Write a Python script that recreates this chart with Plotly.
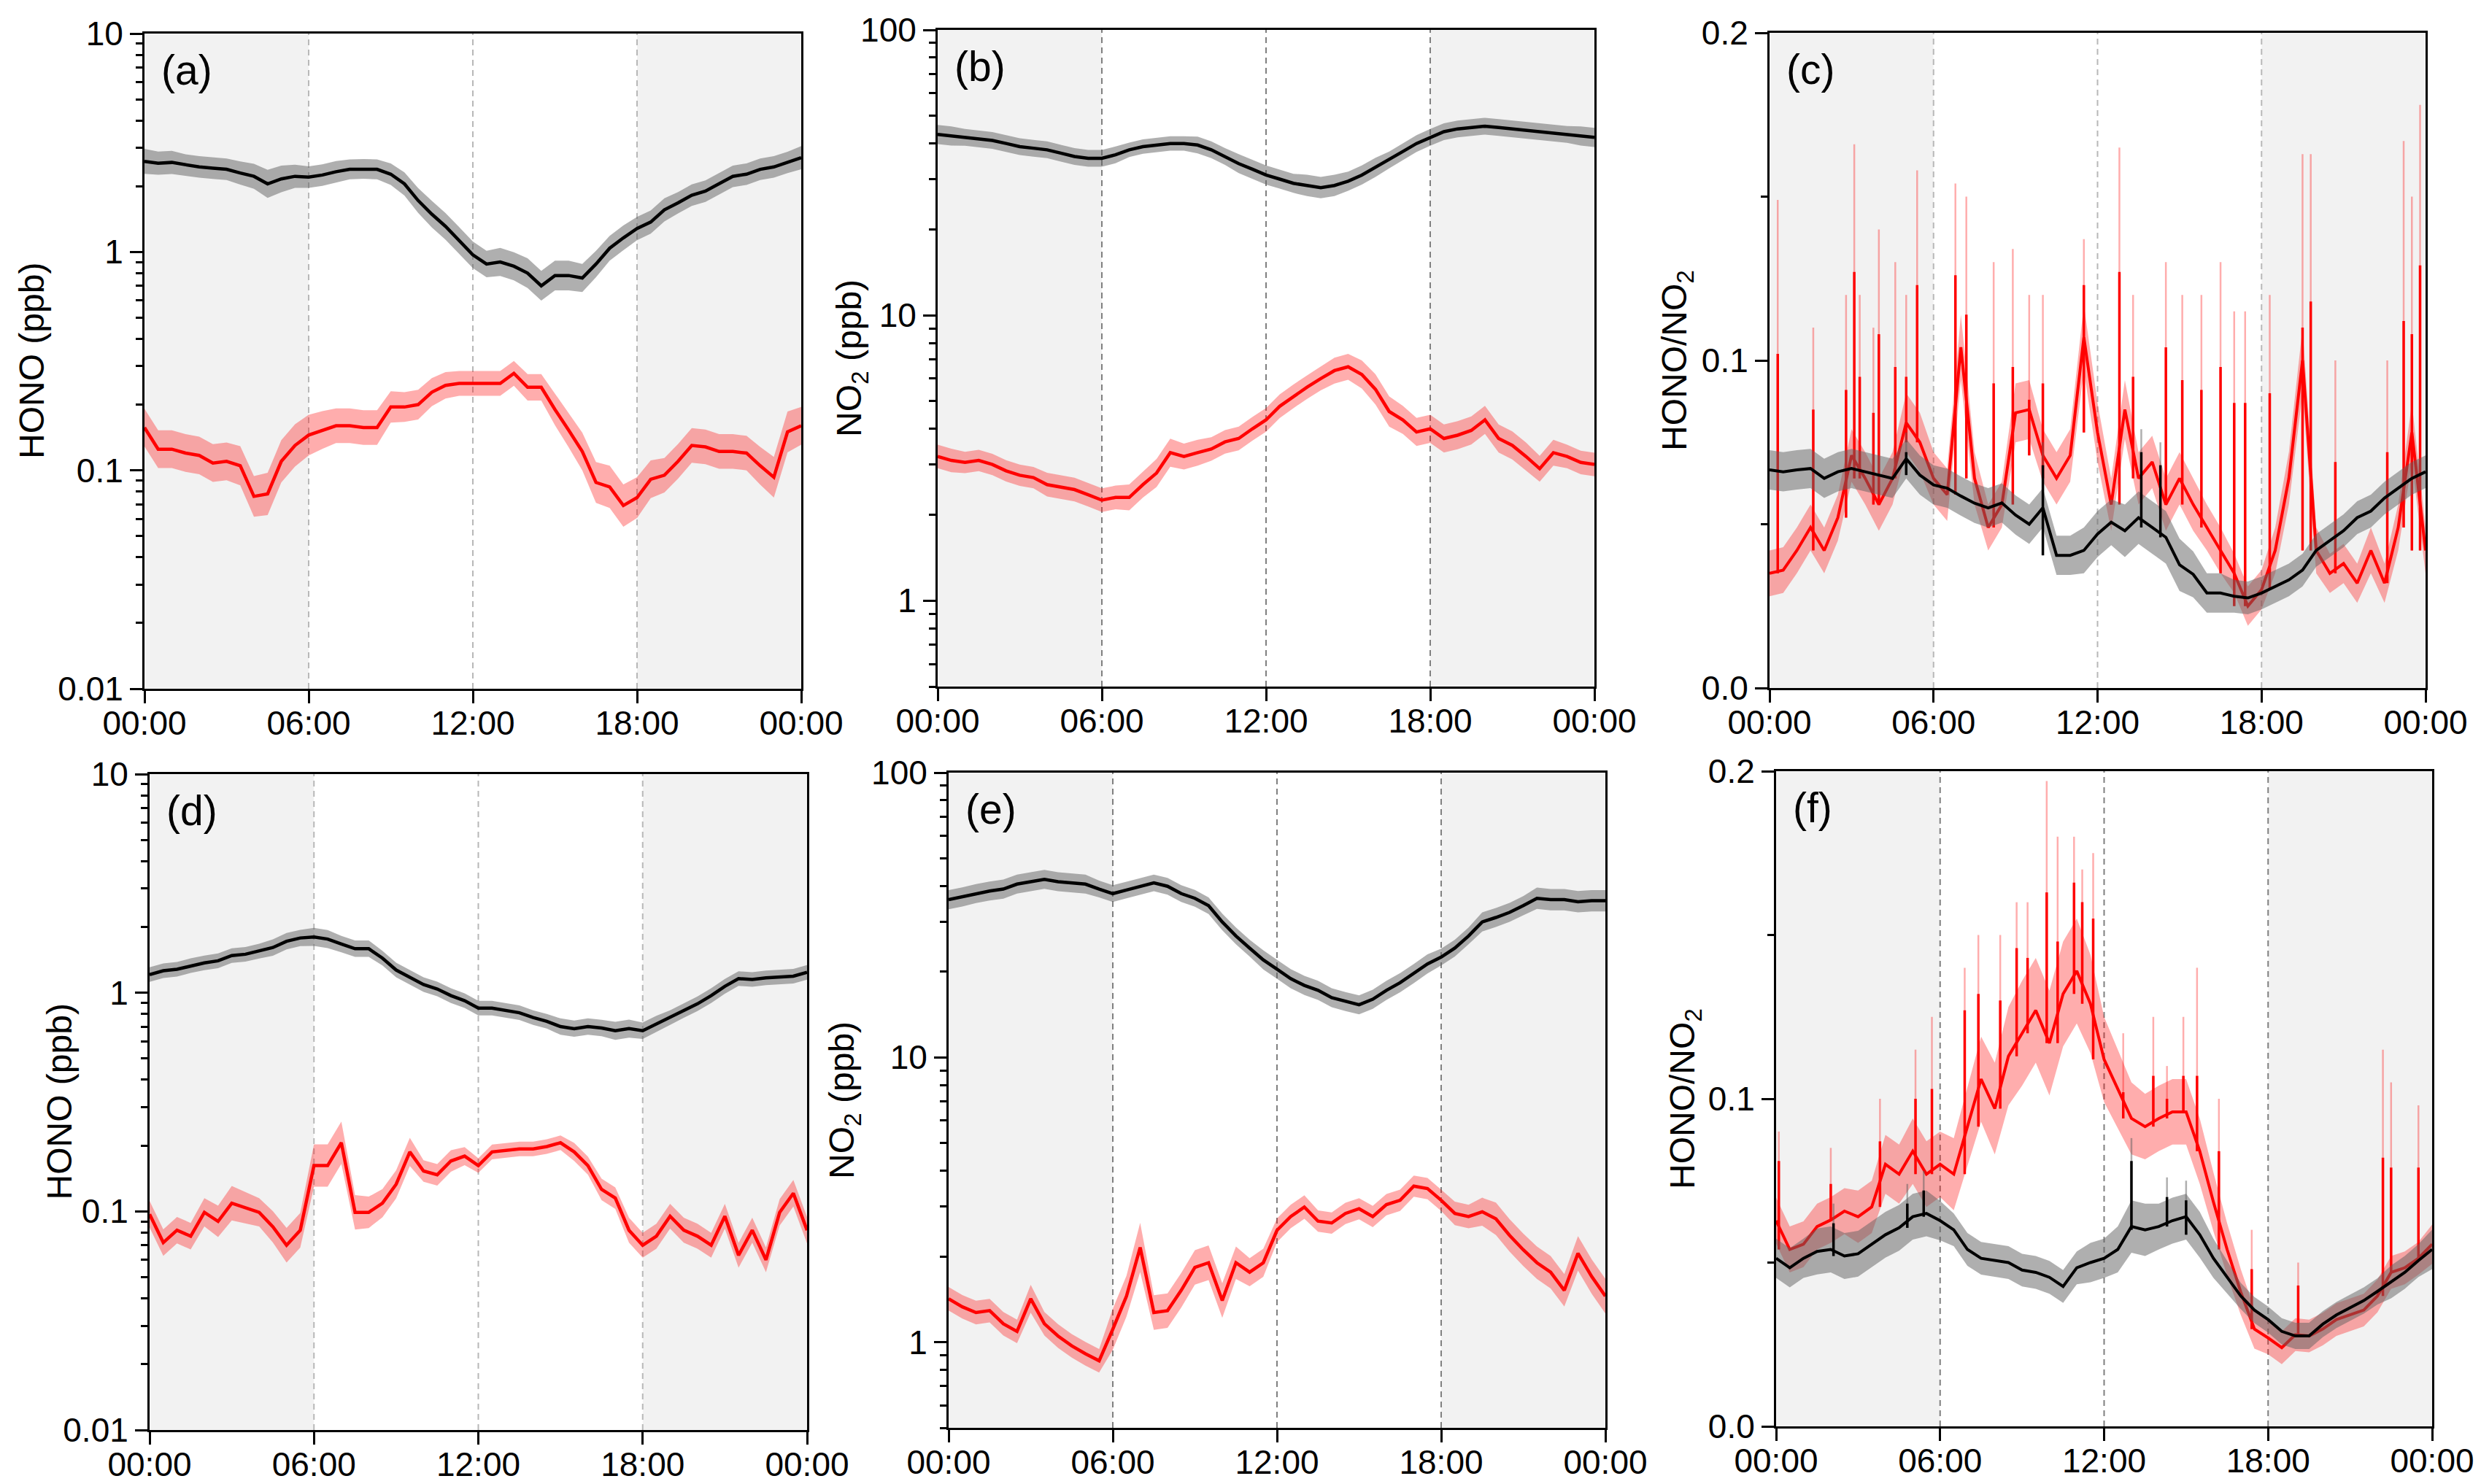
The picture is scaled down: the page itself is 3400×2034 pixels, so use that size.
import numpy as np
import plotly.graph_objects as go

W, H = 3400, 2034
FONT = "Liberation Sans, Arial, sans-serif"

# time of day (hours), 30-min grid
hours = np.arange(49) * 0.5
x_tickvals = [0, 6, 12, 18, 24]
x_ticktext = ["00:00", "06:00", "12:00", "18:00", "00:00"]

# ---------------- (a) HONO, period 1 (ppb) ----------------
hono_a_black = [2.60, 2.55, 2.57, 2.50, 2.45, 2.42, 2.39, 2.30, 2.22, 2.05,
                2.16, 2.22, 2.20, 2.25, 2.33, 2.39, 2.40, 2.39, 2.27, 2.05,
                1.72, 1.49, 1.31, 1.13, 0.97, 0.88, 0.90, 0.86, 0.80, 0.70,
                0.78, 0.78, 0.76, 0.88, 1.04, 1.16, 1.28, 1.37, 1.56, 1.68,
                1.82, 1.90, 2.05, 2.22, 2.27, 2.39, 2.45, 2.57, 2.70]
hono_a_black_spread = [1.14, 1.13, 1.13, 1.12, 1.12, 1.12, 1.12, 1.13, 1.14, 1.16,
                       1.15, 1.13, 1.12, 1.12, 1.12, 1.11, 1.11, 1.11, 1.12, 1.13,
                       1.14, 1.15, 1.15, 1.15, 1.15, 1.15, 1.16, 1.16, 1.17, 1.17,
                       1.17, 1.17, 1.16, 1.15, 1.14, 1.14, 1.13, 1.13, 1.13, 1.12,
                       1.12, 1.12, 1.12, 1.12, 1.12, 1.12, 1.12, 1.12, 1.13]
hono_a_red = [0.157, 0.125, 0.125, 0.120, 0.117, 0.108, 0.110, 0.105, 0.076, 0.078,
              0.110, 0.130, 0.145, 0.153, 0.160, 0.160, 0.157, 0.157, 0.195, 0.195,
              0.200, 0.228, 0.245, 0.250, 0.250, 0.250, 0.250, 0.278, 0.240, 0.240,
              0.190, 0.153, 0.122, 0.088, 0.084, 0.069, 0.075, 0.091, 0.095, 0.110,
              0.130, 0.128, 0.122, 0.122, 0.120, 0.105, 0.093, 0.150, 0.160]
hono_a_red_spread = [1.22, 1.22, 1.22, 1.22, 1.22, 1.22, 1.22, 1.23, 1.24, 1.25,
                     1.25, 1.25, 1.24, 1.22, 1.20, 1.20, 1.20, 1.20, 1.18, 1.17,
                     1.17, 1.16, 1.15, 1.14, 1.14, 1.14, 1.14, 1.14, 1.15, 1.15,
                     1.18, 1.20, 1.22, 1.24, 1.25, 1.25, 1.24, 1.22, 1.20, 1.20,
                     1.20, 1.20, 1.20, 1.20, 1.20, 1.22, 1.24, 1.24, 1.22]

# ---------------- (b) NO2, period 1 (ppb) ----------------
no2_b_black = [43.0, 42.5, 42.0, 41.5, 41.0, 40.0, 39.0, 38.5, 38.0, 37.0,
               36.0, 35.5, 35.5, 36.5, 38.0, 39.0, 39.5, 40.0, 40.0, 39.5,
               38.0, 36.0, 34.0, 32.5, 31.0, 30.0, 29.0, 28.5, 28.0, 28.5,
               29.5, 31.0, 33.0, 35.0, 37.5, 40.0, 42.0, 44.0, 45.0, 45.5,
               46.0, 45.5, 45.0, 44.5, 44.0, 43.5, 43.0, 42.5, 42.0]
no2_b_black_spread = [1.08, 1.08, 1.07, 1.07, 1.07, 1.07, 1.07, 1.07, 1.07, 1.07,
                      1.07, 1.07, 1.07, 1.07, 1.06, 1.06, 1.06, 1.06, 1.06, 1.07,
                      1.07, 1.07, 1.08, 1.08, 1.08, 1.08, 1.08, 1.09, 1.09, 1.09,
                      1.08, 1.08, 1.08, 1.07, 1.07, 1.07, 1.07, 1.07, 1.07, 1.07,
                      1.07, 1.07, 1.07, 1.07, 1.07, 1.07, 1.07, 1.08, 1.08]
no2_b_red = [3.20, 3.10, 3.05, 3.10, 3.00, 2.85, 2.75, 2.70, 2.55, 2.50,
             2.45, 2.35, 2.25, 2.30, 2.30, 2.55, 2.80, 3.30, 3.20, 3.30,
             3.40, 3.60, 3.70, 4.00, 4.30, 4.80, 5.20, 5.60, 6.00, 6.40,
             6.60, 6.20, 5.50, 4.60, 4.30, 3.90, 4.00, 3.70, 3.80, 3.95,
             4.30, 3.70, 3.50, 3.20, 2.90, 3.30, 3.20, 3.05, 3.00]
no2_b_red_spread = [1.10, 1.10, 1.09, 1.09, 1.09, 1.09, 1.09, 1.09, 1.10, 1.10,
                    1.10, 1.10, 1.10, 1.10, 1.11, 1.11, 1.12, 1.12, 1.11, 1.11,
                    1.10, 1.10, 1.10, 1.10, 1.10, 1.10, 1.10, 1.10, 1.10, 1.11,
                    1.11, 1.12, 1.13, 1.13, 1.12, 1.12, 1.12, 1.12, 1.12, 1.12,
                    1.12, 1.12, 1.12, 1.12, 1.11, 1.11, 1.10, 1.10, 1.10]

# ---------------- (c) HONO/NO2, period 1 ----------------
ratio_c_black = [0.0666, 0.0660, 0.0666, 0.0670, 0.0640, 0.0660, 0.0670, 0.0660, 0.0650, 0.0640,
                 0.0700, 0.0650, 0.0620, 0.0610, 0.0586, 0.0564, 0.0550, 0.0565, 0.0528, 0.0500,
                 0.0550, 0.0405, 0.0405, 0.0420, 0.0470, 0.0506, 0.0480, 0.0520, 0.0490, 0.0460,
                 0.0376, 0.0347, 0.0290, 0.0290, 0.0280, 0.0275, 0.0290, 0.0310, 0.0330, 0.0360,
                 0.0420, 0.0450, 0.0480, 0.0520, 0.0540, 0.0580, 0.0610, 0.0640, 0.0660]
ratio_c_black_spread = [0.006, 0.006, 0.006, 0.006, 0.006, 0.006, 0.006, 0.006, 0.006, 0.006,
                        0.006, 0.006, 0.006, 0.006, 0.006, 0.006, 0.006, 0.006, 0.006, 0.006,
                        0.006, 0.006, 0.006, 0.007, 0.007, 0.007, 0.008, 0.008, 0.008, 0.008,
                        0.008, 0.007, 0.006, 0.006, 0.005, 0.005, 0.005, 0.005, 0.005, 0.005,
                        0.005, 0.005, 0.005, 0.005, 0.005, 0.005, 0.005, 0.005, 0.005]
ratio_c_red = [0.035, 0.036, 0.042, 0.049, 0.042, 0.052, 0.071, 0.064, 0.056, 0.064,
               0.081, 0.075, 0.064, 0.059, 0.104, 0.064, 0.049, 0.056, 0.084, 0.085,
               0.071, 0.064, 0.071, 0.107, 0.078, 0.056, 0.085, 0.064, 0.069, 0.056,
               0.064, 0.056, 0.049, 0.042, 0.035, 0.025, 0.030, 0.042, 0.064, 0.100,
               0.042, 0.035, 0.038, 0.032, 0.042, 0.032, 0.049, 0.078, 0.042]
ratio_c_red_spread = [0.007, 0.007, 0.007, 0.007, 0.007, 0.007, 0.008, 0.008, 0.008, 0.008,
                      0.009, 0.009, 0.008, 0.008, 0.010, 0.008, 0.007, 0.007, 0.009, 0.009,
                      0.008, 0.008, 0.008, 0.010, 0.009, 0.008, 0.009, 0.008, 0.008, 0.008,
                      0.008, 0.008, 0.007, 0.007, 0.006, 0.006, 0.006, 0.007, 0.008, 0.010,
                      0.007, 0.006, 0.006, 0.006, 0.007, 0.006, 0.007, 0.009, 0.007]
# short spikes of the red series (time h, peak, upper band peak)
spk_c_red_t = [0.3, 1.6, 2.8, 3.1, 3.3, 3.8, 4.0, 4.6, 5.0, 5.4, 6.8, 7.2, 8.2, 8.9, 9.5, 10.0, 11.5,
               12.8, 13.3, 14.5, 15.1, 15.8, 16.5, 17.0, 17.4, 18.3, 19.5, 19.8, 20.7, 22.6, 23.2, 23.5, 23.8]
spk_c_red_v = [0.102, 0.085, 0.091, 0.127, 0.095, 0.084, 0.108, 0.098, 0.095, 0.123, 0.126, 0.114, 0.093,
               0.098, 0.088, 0.093, 0.123, 0.127, 0.095, 0.104, 0.094, 0.091, 0.098, 0.087, 0.087, 0.090,
               0.110, 0.118, 0.069, 0.072, 0.112, 0.108, 0.129]
spk_c_red_hi = [0.149, 0.110, 0.120, 0.166, 0.120, 0.110, 0.140, 0.130, 0.120, 0.158, 0.154, 0.150, 0.130,
                0.134, 0.120, 0.120, 0.137, 0.165, 0.120, 0.130, 0.120, 0.120, 0.130, 0.115, 0.115, 0.120,
                0.163, 0.163, 0.100, 0.100, 0.167, 0.150, 0.178]
spk_c_black_t = [5.0, 10.0, 13.6, 14.3]
spk_c_black_v = [0.072, 0.068, 0.072, 0.068]
spk_c_black_hi = [0.078, 0.075, 0.079, 0.075]

# ---------------- (d) HONO, period 2 (ppb) ----------------
hono_d_black = [1.21, 1.26, 1.28, 1.33, 1.37, 1.40, 1.48, 1.50, 1.55, 1.61,
                1.72, 1.78, 1.80, 1.76, 1.67, 1.59, 1.59, 1.44, 1.27, 1.18,
                1.09, 1.04, 0.97, 0.92, 0.85, 0.85, 0.83, 0.81, 0.77, 0.74,
                0.70, 0.685, 0.70, 0.69, 0.67, 0.685, 0.67, 0.72, 0.77, 0.83,
                0.89, 0.97, 1.07, 1.16, 1.15, 1.17, 1.18, 1.19, 1.24]
hono_d_black_spread = [1.08, 1.08, 1.08, 1.08, 1.08, 1.08, 1.08, 1.08, 1.08, 1.09,
                       1.09, 1.09, 1.10, 1.10, 1.09, 1.09, 1.09, 1.08, 1.08, 1.08,
                       1.08, 1.08, 1.08, 1.08, 1.08, 1.08, 1.08, 1.08, 1.08, 1.08,
                       1.09, 1.09, 1.09, 1.09, 1.10, 1.10, 1.09, 1.09, 1.08, 1.08,
                       1.08, 1.08, 1.08, 1.08, 1.08, 1.08, 1.08, 1.08, 1.08]
hono_d_red = [0.097, 0.072, 0.082, 0.077, 0.099, 0.090, 0.109, 0.104, 0.099, 0.085,
              0.070, 0.082, 0.162, 0.162, 0.206, 0.099, 0.099, 0.109, 0.133, 0.187,
              0.153, 0.147, 0.170, 0.179, 0.162, 0.187, 0.190, 0.193, 0.193, 0.198,
              0.206, 0.187, 0.162, 0.126, 0.115, 0.082, 0.070, 0.077, 0.095, 0.082,
              0.077, 0.070, 0.095, 0.063, 0.082, 0.060, 0.099, 0.121, 0.082]
hono_d_red_spread = [1.15, 1.15, 1.15, 1.15, 1.16, 1.18, 1.20, 1.18, 1.16, 1.18,
                     1.20, 1.20, 1.25, 1.25, 1.25, 1.20, 1.18, 1.16, 1.16, 1.16,
                     1.12, 1.12, 1.12, 1.10, 1.08, 1.08, 1.08, 1.08, 1.08, 1.08,
                     1.08, 1.10, 1.10, 1.12, 1.12, 1.14, 1.14, 1.14, 1.14, 1.14,
                     1.14, 1.14, 1.14, 1.14, 1.14, 1.14, 1.15, 1.15, 1.15]

# ---------------- (e) NO2, period 2 (ppb) ----------------
no2_e_black = [35.8, 36.6, 37.6, 38.4, 39.0, 40.6, 41.4, 42.2, 41.4, 41.0,
               40.6, 39.0, 37.6, 38.7, 39.9, 41.0, 39.9, 37.6, 36.2, 34.1,
               29.9, 26.7, 24.2, 22.0, 20.4, 18.9, 17.9, 17.2, 16.2, 15.7,
               15.3, 16.0, 17.2, 18.3, 19.7, 21.3, 22.5, 24.2, 26.7, 29.9,
               31.0, 32.3, 34.1, 36.2, 35.8, 35.8, 35.2, 35.5, 35.5]
no2_e_black_spread = [1.08, 1.08, 1.08, 1.08, 1.08, 1.08, 1.08, 1.08, 1.08, 1.08,
                      1.08, 1.07, 1.07, 1.07, 1.07, 1.07, 1.07, 1.07, 1.07, 1.07,
                      1.07, 1.07, 1.07, 1.08, 1.08, 1.08, 1.08, 1.08, 1.08, 1.08,
                      1.08, 1.08, 1.08, 1.08, 1.08, 1.08, 1.07, 1.07, 1.07, 1.08,
                      1.08, 1.08, 1.08, 1.09, 1.09, 1.09, 1.09, 1.09, 1.09]
no2_e_red = [1.42, 1.33, 1.27, 1.29, 1.16, 1.09, 1.42, 1.16, 1.05, 0.97,
             0.91, 0.86, 1.11, 1.45, 2.15, 1.27, 1.29, 1.52, 1.83, 1.90,
             1.40, 1.90, 1.76, 1.90, 2.47, 2.76, 2.98, 2.66, 2.62, 2.83,
             2.94, 2.76, 3.04, 3.15, 3.53, 3.46, 3.15, 2.83, 2.76, 2.87,
             2.71, 2.37, 2.11, 1.90, 1.76, 1.52, 2.05, 1.70, 1.45]
no2_e_red_spread = [1.10, 1.10, 1.10, 1.10, 1.10, 1.10, 1.12, 1.10, 1.10, 1.10,
                    1.10, 1.10, 1.18, 1.18, 1.22, 1.15, 1.15, 1.15, 1.15, 1.15,
                    1.15, 1.14, 1.12, 1.12, 1.10, 1.10, 1.10, 1.09, 1.09, 1.09,
                    1.09, 1.09, 1.09, 1.09, 1.09, 1.09, 1.09, 1.10, 1.10, 1.12,
                    1.14, 1.14, 1.14, 1.14, 1.14, 1.14, 1.15, 1.15, 1.15]

# ---------------- (f) HONO/NO2, period 2 ----------------
ratio_f_black = [0.0513, 0.0484, 0.0513, 0.0534, 0.0540, 0.0520, 0.0527, 0.0556, 0.0585, 0.0606,
                 0.0640, 0.0650, 0.0628, 0.0600, 0.0540, 0.0513, 0.0506, 0.0500, 0.0477, 0.0470,
                 0.0455, 0.0427, 0.0484, 0.0500, 0.0513, 0.0540, 0.0610, 0.0600, 0.0610, 0.0628,
                 0.0640, 0.0585, 0.0513, 0.0455, 0.0398, 0.0355, 0.0326, 0.0290, 0.0276, 0.0276,
                 0.0312, 0.0340, 0.0362, 0.0384, 0.0412, 0.0441, 0.0470, 0.0506, 0.0540]
ratio_f_black_spread = [0.006, 0.006, 0.006, 0.007, 0.007, 0.007, 0.007, 0.007, 0.007, 0.007,
                        0.007, 0.007, 0.006, 0.005, 0.005, 0.005, 0.005, 0.005, 0.005, 0.005,
                        0.005, 0.005, 0.005, 0.006, 0.006, 0.007, 0.008, 0.008, 0.007, 0.007,
                        0.007, 0.007, 0.006, 0.005, 0.004, 0.004, 0.004, 0.004, 0.004, 0.004,
                        0.004, 0.004, 0.004, 0.004, 0.004, 0.005, 0.005, 0.005, 0.006]
ratio_f_red = [0.0628, 0.0540, 0.0556, 0.0610, 0.0630, 0.0657, 0.0640, 0.0670, 0.0800, 0.0770,
               0.0840, 0.0770, 0.0800, 0.0770, 0.0915, 0.1060, 0.0970, 0.1130, 0.1200, 0.1270,
               0.1170, 0.1320, 0.1390, 0.1290, 0.1120, 0.1030, 0.0940, 0.0915, 0.0940, 0.0960,
               0.0960, 0.0840, 0.0685, 0.0540, 0.0410, 0.0297, 0.0270, 0.0240, 0.0280, 0.0276,
               0.0297, 0.0326, 0.0340, 0.0355, 0.0398, 0.0470, 0.0484, 0.0513, 0.0556]
ratio_f_red_spread = [0.007, 0.007, 0.007, 0.007, 0.007, 0.007, 0.008, 0.008, 0.009, 0.009,
                      0.010, 0.010, 0.010, 0.011, 0.012, 0.013, 0.014, 0.015, 0.016, 0.016,
                      0.016, 0.016, 0.016, 0.015, 0.013, 0.012, 0.011, 0.010, 0.010, 0.010,
                      0.010, 0.010, 0.009, 0.008, 0.007, 0.006, 0.005, 0.005, 0.005, 0.005,
                      0.005, 0.005, 0.005, 0.005, 0.005, 0.005, 0.005, 0.005, 0.006]
spk_f_red_t = [0.1, 2.0, 3.8, 5.1, 5.7, 6.9, 7.4, 8.2, 8.8, 9.2, 9.9, 10.3, 10.9, 11.2, 11.6,
               12.7, 13.8, 14.3, 14.9, 15.4, 16.2, 17.4, 19.1, 22.2, 22.5, 23.5]
spk_f_red_v = [0.081, 0.074, 0.087, 0.100, 0.103, 0.127, 0.132, 0.130, 0.146, 0.143, 0.163, 0.148,
               0.166, 0.160, 0.155, 0.102, 0.107, 0.100, 0.107, 0.107, 0.084, 0.048, 0.043, 0.082,
               0.079, 0.079]
spk_f_red_hi = [0.090, 0.085, 0.100, 0.115, 0.125, 0.140, 0.150, 0.150, 0.160, 0.160, 0.197, 0.180,
                0.180, 0.170, 0.175, 0.120, 0.125, 0.110, 0.125, 0.140, 0.100, 0.060, 0.050, 0.115,
                0.105, 0.098]
spk_f_black_t = [2.1, 4.8, 5.4, 13.0, 14.3, 15.0]
spk_f_black_v = [0.062, 0.068, 0.072, 0.081, 0.070, 0.069]
spk_f_black_hi = [0.068, 0.074, 0.078, 0.088, 0.076, 0.075]

# ---------------- styling / layout ----------------
RED = "#ff0000"
PINK = "rgba(255,0,0,0.32)"
GRAY = "rgba(95,95,95,0.50)"
SHADE = "#f2f2f2"

# panel boxes in pixels: left, top, right, bottom
boxes = [(190, 38, 1090, 936), (1277, 33, 2177, 933), (2417, 37, 3316, 935),
         (197, 1053, 1098, 1952), (1292, 1051, 2192, 1949), (2426, 1049, 3325, 1947)]
letters = ["(a)", "(b)", "(c)", "(d)", "(e)", "(f)"]
ytitles = ["HONO (ppb)", "NO<sub>2</sub> (ppb)", "HONO/NO<sub>2</sub>",
           "HONO (ppb)", "NO<sub>2</sub> (ppb)", "HONO/NO<sub>2</sub>"]
ytitle_offset = [155, 118, 127, 124, 143, 125]
dash_color = ["#b8b8b8", "#808080", "#b8b8b8", "#b8b8b8", "#808080", "#808080"]

panels = [
    dict(kind="log", black=hono_a_black, bsp=hono_a_black_spread, red=hono_a_red, rsp=hono_a_red_spread),
    dict(kind="log", black=no2_b_black, bsp=no2_b_black_spread, red=no2_b_red, rsp=no2_b_red_spread),
    dict(kind="lin", black=ratio_c_black, bsp=ratio_c_black_spread, red=ratio_c_red, rsp=ratio_c_red_spread,
         rspk=(spk_c_red_t, spk_c_red_v, spk_c_red_hi), bspk=(spk_c_black_t, spk_c_black_v, spk_c_black_hi)),
    dict(kind="log", black=hono_d_black, bsp=hono_d_black_spread, red=hono_d_red, rsp=hono_d_red_spread),
    dict(kind="log", black=no2_e_black, bsp=no2_e_black_spread, red=no2_e_red, rsp=no2_e_red_spread),
    dict(kind="lin", black=ratio_f_black, bsp=ratio_f_black_spread, red=ratio_f_red, rsp=ratio_f_red_spread,
         rspk=(spk_f_red_t, spk_f_red_v, spk_f_red_hi), bspk=(spk_f_black_t, spk_f_black_v, spk_f_black_hi)),
]

fig = go.Figure()


def axn(i):
    return "" if i == 1 else str(i)


def band(mean, spread, kind):
    m = np.array(mean, dtype=float)
    s = np.array(spread, dtype=float)
    if kind == "log":
        return m / s, m * s
    return m - s, m + s


def add_band(i, lo, hi, color):
    a = axn(i)
    fig.add_trace(go.Scatter(x=hours, y=lo, mode="lines", line=dict(width=0, color=color),
                             xaxis="x" + a, yaxis="y" + a, hoverinfo="skip", showlegend=False))
    fig.add_trace(go.Scatter(x=hours, y=hi, mode="lines", line=dict(width=0, color=color),
                             fill="tonexty", fillcolor=color,
                             xaxis="x" + a, yaxis="y" + a, hoverinfo="skip", showlegend=False))


def add_line(i, y, color, width):
    a = axn(i)
    fig.add_trace(go.Scatter(x=hours, y=y, mode="lines", line=dict(color=color, width=width),
                             xaxis="x" + a, yaxis="y" + a, hoverinfo="skip", showlegend=False))


def add_spikes(i, mean, spk, color, pale, width):
    a = axn(i)
    ts, vs, his = spk
    xs, ys, xh, yh = [], [], [], []
    for t, v, h in zip(ts, vs, his):
        k = int(np.floor(t * 2))
        foot = min(mean[k], mean[min(k + 1, len(mean) - 1)])
        xs += [t, t, None]
        ys += [foot, v, None]
        xh += [t, t, None]
        yh += [foot, h, None]
    fig.add_trace(go.Scatter(x=xh, y=yh, mode="lines", line=dict(color=pale, width=2.5),
                             xaxis="x" + a, yaxis="y" + a, hoverinfo="skip", showlegend=False))
    fig.add_trace(go.Scatter(x=xs, y=ys, mode="lines", line=dict(color=color, width=width),
                             xaxis="x" + a, yaxis="y" + a, hoverinfo="skip", showlegend=False))


for i, p in enumerate(panels, 1):
    lw = 4.5 if p["kind"] == "log" else 4
    rlo, rhi = band(p["red"], p["rsp"], p["kind"])
    add_band(i, rlo, rhi, PINK)
    add_line(i, p["red"], RED, lw)
    if "rspk" in p:
        add_spikes(i, p["red"], p["rspk"], RED, PINK, 3.5)
    blo, bhi = band(p["black"], p["bsp"], p["kind"])
    add_band(i, blo, bhi, GRAY)
    add_line(i, p["black"], "#000000", lw)
    if "bspk" in p:
        add_spikes(i, p["black"], p["bspk"], "#000000", GRAY, 3.5)

tickfont = dict(family=FONT, size=46, color="black")
layout = dict(width=W, height=H, autosize=False,
              margin=dict(l=0, r=0, t=0, b=0, pad=0, autoexpand=False),
              paper_bgcolor="white", plot_bgcolor="white", showlegend=False,
              font=dict(family=FONT, color="black"))
shapes, annotations = [], []

log_minor_ad = [k * 10.0 ** e for e in (-2, -1, 0) for k in range(2, 10)]
log_minor_be = [k * 10.0 ** e for e in (-1, 0, 1) for k in range(2, 10) if k * 10.0 ** e >= 0.5]

for i, (l, t, r, b) in enumerate(boxes, 1):
    a = axn(i)
    xd = [l / W, r / W]
    yd = [1 - b / H, 1 - t / H]
    common = dict(showline=True, linewidth=3, linecolor="black", mirror=True, showgrid=False,
                  zeroline=False, ticks="outside", ticklen=17, tickwidth=3, tickcolor="black",
                  tickfont=tickfont, automargin=False)
    layout["xaxis" + a] = dict(domain=xd, anchor="y" + a, range=[0, 24], tickmode="array",
                               tickvals=x_tickvals, ticktext=x_ticktext, ticklabelstandoff=-12,
                               **common)
    if i in (1, 4):
        yax = dict(type="log", range=[-2, 1], tickmode="array", tickvals=[0.01, 0.1, 1, 10],
                   ticktext=["0.01", "0.1", "1", "10"],
                   minor=dict(tickmode="array", tickvals=log_minor_ad, ticks="outside", ticklen=9,
                              tickwidth=3, tickcolor="black", showgrid=False))
    elif i in (2, 5):
        yax = dict(type="log", range=[np.log10(0.5), 2], tickmode="array", tickvals=[1, 10, 100],
                   ticktext=["1", "10", "100"],
                   minor=dict(tickmode="array", tickvals=log_minor_be, ticks="outside", ticklen=9,
                              tickwidth=3, tickcolor="black", showgrid=False))
    else:
        yax = dict(range=[0, 0.2], tickmode="array", tickvals=[0, 0.1, 0.2],
                   ticktext=["0.0", "0.1", "0.2"],
                   minor=dict(tickmode="array", tickvals=[0.05, 0.15], ticks="outside", ticklen=9,
                              tickwidth=3, tickcolor="black", showgrid=False))
    layout["yaxis" + a] = dict(domain=yd, anchor="x" + a, **yax, **common)

    # night shading and dashed guide lines
    for x0, x1 in ((0, 6), (18, 24)):
        shapes.append(dict(type="rect", xref="x" + a, yref="y" + a + " domain", x0=x0, x1=x1,
                           y0=0, y1=1, fillcolor=SHADE, line=dict(width=0), layer="below"))
    for xv in (6, 12, 18):
        shapes.append(dict(type="line", xref="x" + a, yref="y" + a + " domain", x0=xv, x1=xv,
                           y0=0, y1=1, line=dict(color=dash_color[i - 1], width=2, dash="8px,6px"),
                           layer="below"))

    annotations.append(dict(text=letters[i - 1], xref="paper", yref="paper",
                            x=(l + 21) / W, y=1 - (t + 50) / H, xanchor="left", yanchor="middle",
                            showarrow=False, font=dict(family=FONT, size=57, color="black")))
    annotations.append(dict(text=ytitles[i - 1], xref="paper", yref="paper",
                            x=(l - ytitle_offset[i - 1]) / W, y=1 - (t + b) / 2 / H,
                            xanchor="center", yanchor="middle", textangle=-90, showarrow=False,
                            font=dict(family=FONT, size=48, color="black")))

layout["shapes"] = shapes
layout["annotations"] = annotations
fig.update_layout(**layout)
fig.write_html("out.html")
